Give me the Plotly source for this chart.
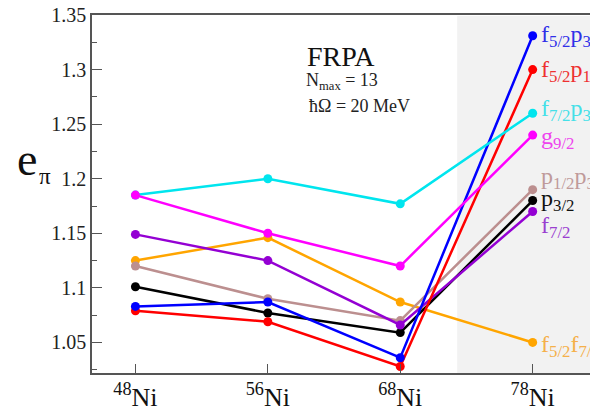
import plotly.graph_objects as go

# Nuclei along the chain and the effective proton charge for each configuration
nuclei = ["48", "56", "68", "78"]
x_idx = [0, 1, 2, 3]

e_f52p32 = [1.083, 1.087, 1.036, 1.331]
e_f52p12 = [1.079, 1.069, 1.028, 1.300]
e_f72p32 = [1.185, 1.200, 1.177, 1.260]
e_g92 = [1.185, 1.150, 1.120, 1.240]
e_p12p32 = [1.120, 1.090, 1.070, 1.190]
e_p32 = [1.101, 1.077, 1.059, 1.180]
e_f72 = [1.149, 1.125, 1.066, 1.170]
e_f52f72 = [1.125, 1.146, 1.087, 1.050]

y_ticks = [1.05, 1.1, 1.15, 1.2, 1.25, 1.3, 1.35]

series = [
    ("f<sub>5/2</sub>f<sub>7/2</sub>", e_f52f72, "#ffa500", "#f5b04a", 4),
    ("p<sub>3/2</sub>", e_p32, "#000000", "#111111", -1),
    ("p<sub>1/2</sub>p<sub>3/2</sub>", e_p12p32, "#bc8f8f", "#bf9a9a", -12),
    ("f<sub>7/2</sub>", e_f72, "#9400d3", "#9a3fd0", 16),
    ("f<sub>5/2</sub>p<sub>1/2</sub>", e_f52p12, "#ff0000", "#ee3030", 1),
    ("f<sub>5/2</sub>p<sub>3/2</sub>", e_f52p32, "#0000ff", "#3030e8", 0),
    ("f<sub>7/2</sub>p<sub>3/2</sub>", e_f72p32, "#00e5ee", "#44e0e8", -3),
    ("g<sub>9/2</sub>", e_g92, "#ff00ff", "#ee44ee", 3),
]

serif = "Liberation Serif, Times New Roman, serif"

fig = go.Figure()
for name, vals, col, txtcol, dy in series:
    fig.add_trace(go.Scatter(
        x=x_idx, y=vals, mode="lines+markers", name=name,
        line=dict(color=col, width=2.5),
        marker=dict(color=col, size=9),
        showlegend=False, hoverinfo="skip",
    ))
    fig.add_annotation(
        x=x_idx[-1], y=vals[-1], xref="x", yref="y",
        text=name, showarrow=False, xanchor="left", yanchor="middle",
        xshift=6, yshift=-dy,
        font=dict(family=serif, size=24, color=txtcol),
    )

# shaded region for the doubly magic 78Ni
fig.add_shape(type="rect", xref="x", yref="paper", x0=2.43, x1=3.6, y0=0, y1=0.997,
              fillcolor="#f2f2f2", line=dict(width=0), layer="below")

fig.add_annotation(x=1.555, y=1.312, xref="x", yref="y", text="FRPA", showarrow=False,
                   xanchor="center", yanchor="middle",
                   font=dict(family=serif, size=28, color="#111111"))
fig.add_annotation(x=1.275, y=1.289, xref="x", yref="y", text="N<sub>max</sub> = 13",
                   showarrow=False, xanchor="left", yanchor="middle",
                   font=dict(family=serif, size=18, color="#222222"))
fig.add_annotation(x=1.295, y=1.267, xref="x", yref="y", text="\u0127\u03a9 = 20 MeV",
                   showarrow=False, xanchor="left", yanchor="middle",
                   font=dict(family=serif, size=18, color="#222222"))

# axis title e_pi
fig.add_annotation(x=-0.13, y=1.218, xref="paper", yref="y", text="e", showarrow=False,
                   xanchor="center", yanchor="middle",
                   font=dict(family=serif, size=46, color="#111111"))
fig.add_annotation(x=-0.095, y=1.202, xref="paper", yref="y", text="\u03c0", showarrow=False,
                   xanchor="center", yanchor="middle",
                   font=dict(family=serif, size=23, color="#111111"))

fig.update_layout(
    width=590, height=411,
    margin=dict(l=92, r=0, t=15, b=38),
    paper_bgcolor="white", plot_bgcolor="white",
    xaxis=dict(
        range=[-0.328, 3.433], tickvals=x_idx,
        ticktext=[f"<sup>{n}</sup>Ni" for n in nuclei],
        ticks="inside", ticklen=9, tickwidth=1.2, tickcolor="#555555",
        showline=True, linecolor="#555555", linewidth=1.6, mirror=True,
        showgrid=False, zeroline=False,
        tickfont=dict(family=serif, size=26, color="#111111"),
    ),
    yaxis=dict(
        range=[1.022, 1.35], tickvals=y_ticks,
        ticktext=[f"{v:g}" for v in y_ticks],
        ticks="inside", ticklen=10, tickwidth=1.2, tickcolor="#555555",
        minor=dict(ticks="inside", ticklen=5, dtick=0.025, tick0=1.025,
                   tickcolor="#555555", tickwidth=1.2),
        showline=True, linecolor="#555555", linewidth=1.6, mirror=False,
        showgrid=False, zeroline=False,
        tickfont=dict(family=serif, size=20, color="#222222"),
    ),
)

fig.write_html("out.html")
